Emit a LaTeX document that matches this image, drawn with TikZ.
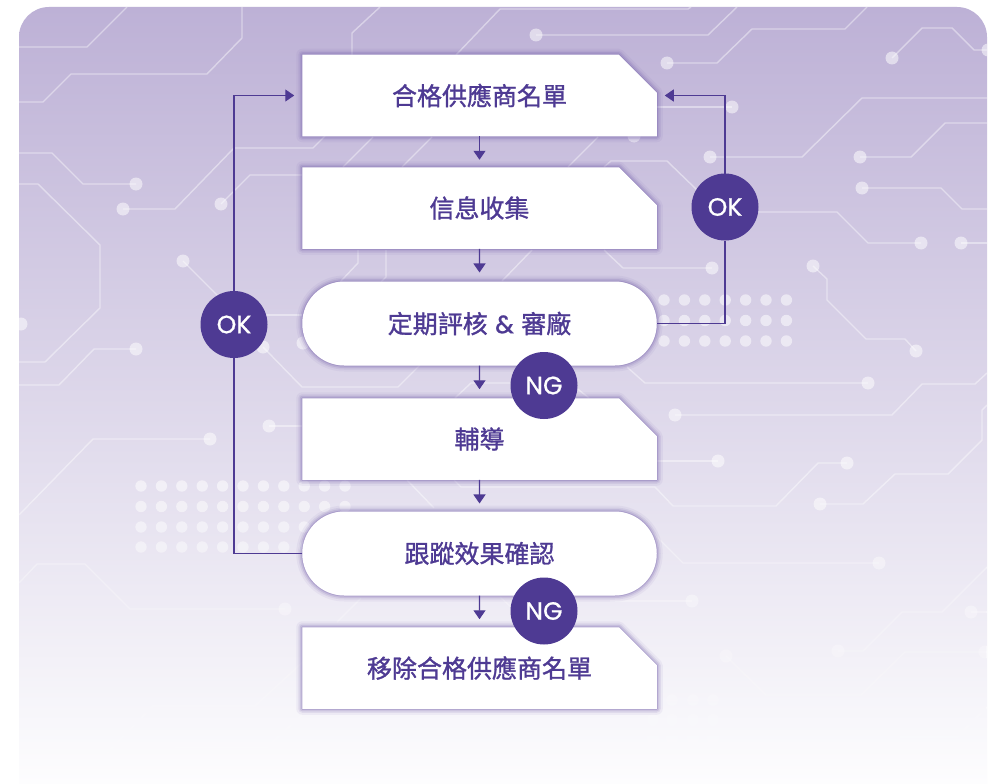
\documentclass[tikz,border=0pt]{standalone}
\usepackage{fontspec}
\usetikzlibrary{arrows.meta,shapes.misc,fadings}
\newfontfamily\cjkf[FakeBold=1.2]{Noto Sans CJK TC}
\newfontfamily\latf[FakeBold=1.0]{Poppins}
\definecolor{brand}{HTML}{4E3A93}
\definecolor{glow}{HTML}{6F5AA8}
\definecolor{cardtop}{HTML}{BDB1D6}
\definecolor{cardmid}{HTML}{DFD9EA}
\definecolor{cardbot}{HTML}{FDFDFE}
\colorlet{cardlow}{cardmid!73!cardbot}
\newcommand{\lbl}[1]{{\cjkf #1}}
\tikzfading[name=lowfade,top color=transparent!100,bottom color=transparent!5]
\makeatletter
\pgfdeclareshape{notecut}{
  \inheritsavedanchors[from=rectangle]
  \inheritanchorborder[from=rectangle]
  \inheritanchor[from=rectangle]{center}
  \inheritanchor[from=rectangle]{north}
  \inheritanchor[from=rectangle]{south}
  \inheritanchor[from=rectangle]{east}
  \inheritanchor[from=rectangle]{west}
  \backgroundpath{
    \southwest \pgf@xa=\pgf@x \pgf@ya=\pgf@y
    \northeast \pgf@xb=\pgf@x \pgf@yb=\pgf@y
    \pgfpathmoveto{\pgfqpoint{\pgf@xa}{\pgf@ya}}
    \pgfpathlineto{\pgfqpoint{\pgf@xa}{\pgf@yb}}
    \pgfpathlineto{\pgfpoint{\pgf@xb-38pt}{\pgf@yb}}
    \pgfpathlineto{\pgfpoint{\pgf@xb}{\pgf@yb-38pt}}
    \pgfpathlineto{\pgfqpoint{\pgf@xb}{\pgf@ya}}
    \pgfpathclose
  }
}
\makeatother
\tikzset{
  trace/.style={draw=white,draw opacity=.42,line width=1.4pt,line join=miter},
  tdot/.style={fill=white,fill opacity=.52},
  softglow/.style={
    preaction={draw=glow,draw opacity=.07,line width=12pt,line join=round},
    preaction={draw=glow,draw opacity=.11,line width=8pt,line join=round},
    preaction={draw=glow,draw opacity=.17,line width=5pt,line join=round},
    preaction={draw=glow,draw opacity=.26,line width=2pt,line join=round}},
  basebox/.style={fill=white,text=brand,font=\fontsize{25}{29}\selectfont,
    minimum width=354.5pt,inner sep=0pt,outer sep=0pt,softglow},
  notebox/.style={basebox,shape=notecut,minimum height=81.5pt},
  pillbox/.style={basebox,rounded rectangle,rounded rectangle arc length=180,minimum height=84pt},
  badge/.style={circle,fill=brand,text=white,minimum size=67pt,inner sep=0pt,outer sep=0pt,
    font=\latf\fontsize{25}{29}\selectfont},
  flow/.style={draw=brand,line width=1.3pt,line join=miter},
  flowarrow/.style={flow,-{Triangle[length=9pt,width=12pt]}},
}
\begin{document}
\begin{tikzpicture}[x=1pt,y=-1pt]
\useasboundingbox (0,0) rectangle (988,784);
\fill[white] (0,0) rectangle (988,784);
\begin{scope}
\clip[rounded corners=30pt] (19,7) -- (987,7) -- (987,860) -- (19,860) -- cycle;
\shade[top color=cardtop,middle color=cardmid,bottom color=cardbot] (19,7) rectangle (987,784);
% circuit traces
\draw[trace] (19,47) -- (87,47) -- (127,7);
\draw[trace] (19,102) -- (43,102) -- (71,74) -- (207,74) -- (242,38) -- (242,7);
\draw[trace] (19,153) -- (52,153) -- (83,184) -- (136,184);
\draw[trace] (123,209) -- (175,209) -- (234,148) -- (313,148) -- (325,136);
\draw[trace] (19,184) -- (38,184) -- (100,245) -- (100,308) -- (45,362) -- (19,362);
\draw[trace] (221,204) -- (250,175) -- (302,175);
\draw[trace] (183,261) -- (225,303);
\draw[trace] (136,349) -- (94,349) -- (59,385) -- (19,385);
\draw[trace] (240,315) -- (302,315);
\draw[trace] (263,347) -- (302,387) -- (398,387) -- (420,365);
\draw[trace] (380,7) -- (352,33) -- (352,55);
\draw[trace] (373,137) -- (343,167);
\draw[trace] (432,137) -- (402,167);
\draw[trace] (598,137) -- (568,167);
\draw[trace] (358,250) -- (358,263) -- (341,281);
\draw[trace] (386,250) -- (386,277) -- (381,282);
\draw[trace] (532,250) -- (502,281);
\draw[trace] (604,250) -- (623,268) -- (712,268);
\draw[trace] (604,167) -- (611,161) -- (667,161) -- (697,190);
\draw[trace] (667,63) -- (717,63) -- (752,29) -- (845,29) -- (867,7);
\draw[trace] (456,55) -- (500,9) -- (688,9) -- (691,7);
\draw[trace] (536,35) -- (708,35) -- (737,7);
\draw[trace] (650,107) -- (732,107);
\draw[trace] (710,157) -- (802,157) -- (862,98) -- (987,98);
\draw[trace] (860,157) -- (911,157) -- (945,123) -- (987,123);
\draw[trace] (862,188) -- (941,188) -- (962,209) -- (987,209);
\draw[trace] (813,266) -- (827,279) -- (827,300) -- (866,339) -- (905,339) -- (916,351);
\draw[trace] (750,212) -- (837,212) -- (868,243) -- (921,243);
\draw[trace] (961,243) -- (987,243);
\draw[trace] (892,58) -- (922,28) -- (952,28) -- (974,50) -- (987,50);
\draw[trace] (627,367) -- (645,383) -- (868,383);
\draw[trace] (675,415) -- (892,415) -- (922,384) -- (975,384) -- (987,373);
\draw[trace] (820,504) -- (863,504) -- (895,474) -- (948,474) -- (982,440) -- (982,410) -- (987,405);
\draw[trace] (650,461) -- (718,461);
\draw[trace] (407,480) -- (434,508);
\draw[trace] (454,480) -- (461,487) -- (655,487) -- (673,506) -- (776,506) -- (818,463) -- (847,463);
\draw[trace] (650,530) -- (683,563) -- (879,563);
\draw[trace] (610,601) -- (692,601);
\draw[trace] (726,656) -- (766,695) -- (861,695) -- (905,652) -- (987,652);
\draw[trace] (838,651) -- (863,651) -- (902,612) -- (942,612) -- (987,567);
\draw[trace] (971,612) -- (987,612);
\draw[trace] (900,737) -- (957,737) -- (987,707);
\draw[trace] (210,439) -- (93,439) -- (19,515);
\draw[trace] (269,426) -- (302,426);
\draw[trace] (19,583) -- (37,564) -- (85,564) -- (130,609) -- (285,609);
\draw[trace] (305,660) -- (255,706) -- (153,706) -- (107,753);
\draw[trace] (175,747) -- (267,747) -- (302,715);
\draw[trace] (361,598) -- (337,622);
\draw[trace] (500,597) -- (511,607);
\draw[trace] (455,398) -- (471,383) -- (520,383);
\draw[trace] (570,383) -- (589,398);
% trace end dots
\foreach \p in {(136,184),(123,209),(221,204),(183,261),(136,349),(263,347),(21,324),(303,343),
  (712,268),(667,63),(536,35),(732,107),(634,136),(710,157),(860,157),(862,188),(813,266),(916,351),
  (921,243),(961,243),(892,58),(988,50),(868,383),(675,415),(820,504),(718,461),(847,463),(879,563),
  (692,601),(726,656),(838,651),(971,612),(985,652),(210,439),(269,426),(285,609)}
  \fill[tdot] \p circle (6.5pt);
% dot grids
\foreach \x in {664,684.4,704.8,725.2,745.6,766,786.4}
  \foreach \y in {300,320.5,341}
    \fill[tdot] (\x,\y) circle (5.7pt);
\foreach \x in {141,161.4,181.8,202.2,222.6,243,263.4,283.8,304.2,324.6,345}
  \foreach \y in {486,506.5,527,547}
    \fill[tdot] (\x,\y) circle (5.7pt);
\foreach \x in {653,672,693,713}
  \foreach \y in {700,720,738}
    \fill[tdot] (\x,\y) circle (5.7pt);
% the lower part of the pattern melts into the card
\shade[top color=cardlow,bottom color=cardbot,path fading=lowfade] (19,500) rectangle (987,784);
\end{scope}
% flow nodes
\node[notebox] (b1) at (479.5,95.5) {\raisebox{.6pt}{\lbl{合格供應商名單}}};
\node[notebox] (b2) at (479.5,208) {\raisebox{.6pt}{\lbl{信息收集}}};
\node[pillbox] (p3) at (479.5,323.5) {\lbl{定期評核\hspace{7.5pt}{\latf\&}\hspace{7.5pt}審廠}};
\node[notebox] (b4) at (479.5,439) {\raisebox{.6pt}{\lbl{輔導}}};
\node[pillbox] (p5) at (479.5,553.5) {\lbl{跟蹤效果確認}};
\node[notebox] (b6) at (479.5,668) {\raisebox{.6pt}{\lbl{移除合格供應商名單}}};
\node[badge] (okl) at (234,324.5) {OK};
\node[badge] (okr) at (725,207) {OK};
% connectors
\draw[flowarrow,shorten >=7.5pt] (b1) -- (b2);
\draw[flowarrow,shorten >=9pt] (b2) -- (p3);
\draw[flowarrow,shorten >=9pt] (p3) -- (b4);
\draw[flowarrow,shorten >=8pt] (b4) -- (p5);
\draw[flowarrow,shorten >=8pt] (p5) -- (b6);
\draw[flow] (p3.east) -| (okr.south);
\draw[flowarrow,shorten >=8pt] (okr.north) |- (b1.east);
\draw[flow] (p5.west) -| (okl.south);
\draw[flowarrow,shorten >=8pt] (okl.north) |- (b1.west);
\node[badge] (ng1) at (544,385.5) {NG};
\node[badge] (ng2) at (544,611) {NG};
\end{tikzpicture}
\end{document}
